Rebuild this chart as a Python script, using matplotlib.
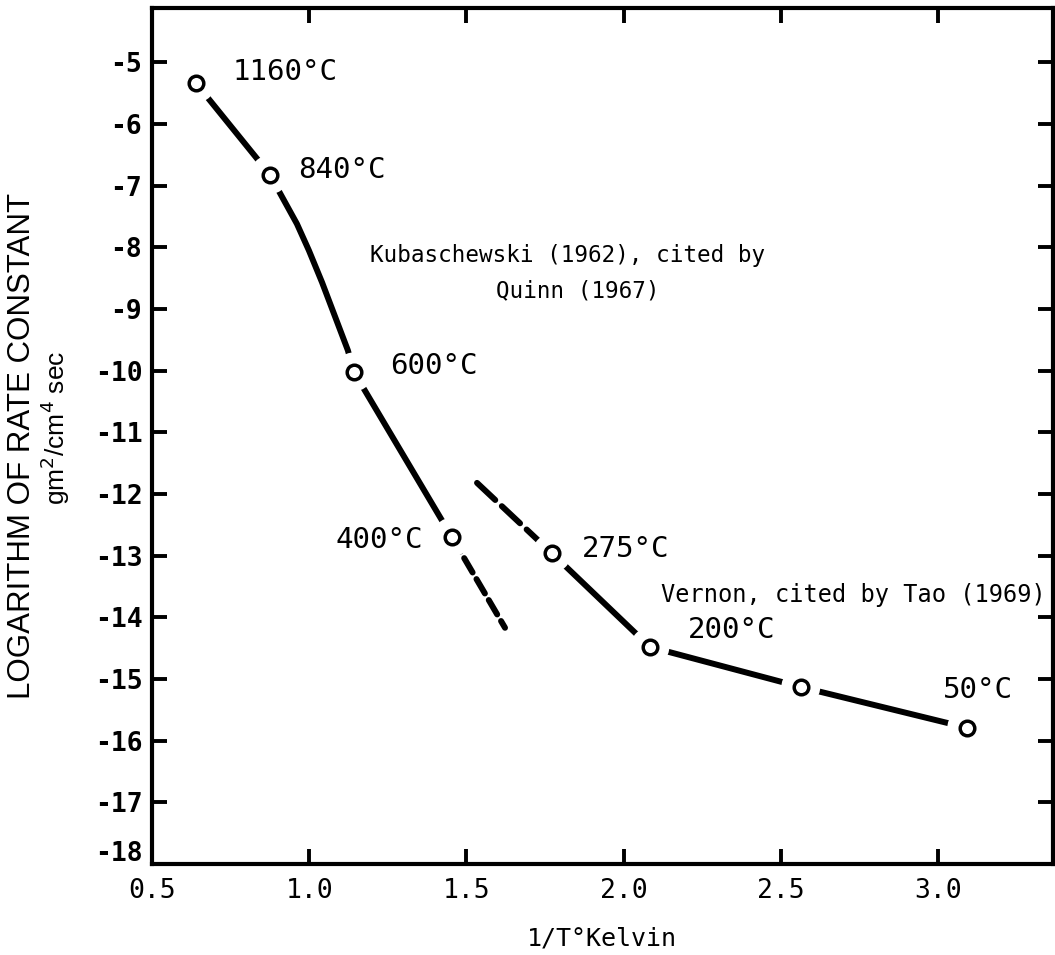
import matplotlib
matplotlib.use("Agg")
import matplotlib.pyplot as plt
import matplotlib.transforms as mtransforms

plt.rcParams["lines.scale_dashes"] = False

# Kubaschewski (1962), cited by Quinn (1967): measured points
kub_labels = ["1160°C", "840°C", "600°C", "400°C"]
kub_x = [0.640, 0.875, 1.142, 1.454]
kub_y = [-5.34, -6.82, -10.02, -12.70]
# hand-drawn curve through the points
kub_curve_x = [0.640, 0.875, 0.907, 0.961, 0.999, 1.041, 1.123, 1.142, 1.454]
kub_curve_y = [-5.34, -6.82, -7.12, -7.62, -8.05, -8.57, -9.67, -10.02, -12.70]
# dashed extrapolation below 400 °C
kub_ext_x = [1.454, 1.623]
kub_ext_y = [-12.70, -14.17]

# Vernon, cited by Tao (1969)
ver_labels = ["275°C", "200°C", "", "50°C"]
ver_x = [1.772, 2.084, 2.564, 3.092]
ver_y = [-12.96, -14.48, -15.13, -15.79]
# dashed extrapolation above 275 °C
ver_ext_x = [1.534, 1.772]
ver_ext_y = [-11.82, -12.96]

x_ticks = [0.5, 1.0, 1.5, 2.0, 2.5, 3.0]
x_ticklabels = ["0.5", "1.0", "1.5", "2.0", "2.5", "3.0"]
y_ticks = [-5, -6, -7, -8, -9, -10, -11, -12, -13, -14, -15, -16, -17, -18]
y_ticklabels = ["-5", "-6", "-7", "-8", "-9", "-10", "-11", "-12", "-13",
                "-14", "-15", "-16", "-17", "-18"]

MONO = "DejaVu Sans Mono"
SANS = "Liberation Sans"

fig = plt.figure(figsize=(10.55, 9.55), dpi=100)
ax = fig.add_axes([0.1441, 0.0953, 0.998 - 0.1441, 0.9916 - 0.0953])
ax.set_xlim(0.5, 3.366)
ax.set_ylim(-18, -4.12)

LW = 4.3

# curves
ax.plot(kub_curve_x, kub_curve_y, color="black", lw=LW,
        solid_capstyle="round", solid_joinstyle="round", zorder=2)
ax.plot(kub_ext_x, kub_ext_y, color="black", lw=LW, dashes=(12, 5.5),
        dash_capstyle="round", zorder=2)
ax.plot(ver_x, ver_y, color="black", lw=LW, solid_capstyle="round", zorder=2)
ax.plot(ver_ext_x, ver_ext_y, color="black", lw=LW, dashes=(18, 6.5),
        dash_capstyle="round", zorder=2)

# open circles, each sitting in a white disc that breaks the line around it
for xs, ys in ((kub_x, kub_y), (ver_x, ver_y)):
    ax.scatter(xs, ys, s=28 ** 2, c="white", edgecolors="none", zorder=3)
    ax.scatter(xs, ys, s=10.5 ** 2, facecolors="white", edgecolors="black",
               linewidths=2.5, zorder=4)

# temperature labels (offsets in points)
kub_offsets = [(26, 8), (20, 3), (26, 4), (-21, -2)]
ver_offsets = [(21.6, 3), (27, 12), (0, 0), (-17, 27)]
for labels, xs, ys, offs in ((kub_labels, kub_x, kub_y, kub_offsets),
                             (ver_labels, ver_x, ver_y, ver_offsets)):
    for lab, x, y, (dx, dy) in zip(labels, xs, ys, offs):
        if not lab:
            continue
        ax.annotate(lab, (x, y), xytext=(dx, dy), textcoords="offset points",
                    ha="left" if dx >= 0 or lab == "50°C" else "right",
                    va="center", fontsize=21, family=MONO, zorder=5)

# source captions
ax.text(1.823, -8.13, "Kubaschewski (1962), cited by", ha="center", va="center",
        fontsize=16.3, family=MONO)
ax.text(1.855, -8.70, "Quinn (1967)", ha="center", va="center",
        fontsize=16.3, family=MONO)
ax.text(2.119, -13.64, "Vernon, cited by Tao (1969)", ha="left", va="center",
        fontsize=17, family=MONO, clip_on=False)

# axes frame and ticks
for sp in ax.spines.values():
    sp.set_linewidth(3.0)
ax.set_xticks(x_ticks)
ax.set_xticklabels(x_ticklabels, family=MONO, fontsize=19)
ax.set_yticks(y_ticks)
ax.set_yticklabels(y_ticklabels, family=MONO, fontsize=19, fontweight="bold")
ax.tick_params(axis="both", which="major", direction="in", length=11, width=2.8,
               top=True, right=True, labeltop=False, labelright=False)
ax.tick_params(axis="x", pad=10)
ax.tick_params(axis="y", pad=7)

# nudge the bottom y label up, clear of the x labels
lowest = ax.yaxis.get_major_ticks()[-1]
lowest.label1.set_transform(lowest.label1.get_transform() +
                            mtransforms.ScaledTranslation(0, 9 / 72, fig.dpi_scale_trans))

# axis titles
fig.text(602 / 1055, 1 - 938 / 955, "1/T°Kelvin", ha="center", va="center",
         fontsize=18, family=MONO)
fig.text(22 / 1055, 1 - 446 / 955, "LOGARITHM OF RATE CONSTANT", rotation=90,
         ha="center", va="center", fontsize=22.5, family=SANS)
fig.text(55 / 1055, 1 - 428 / 955, r"gm$^{2}$/cm$^{4}$ sec", rotation=90,
         ha="center", va="center", fontsize=19, family=SANS)

fig.savefig("out.png", dpi=100)
